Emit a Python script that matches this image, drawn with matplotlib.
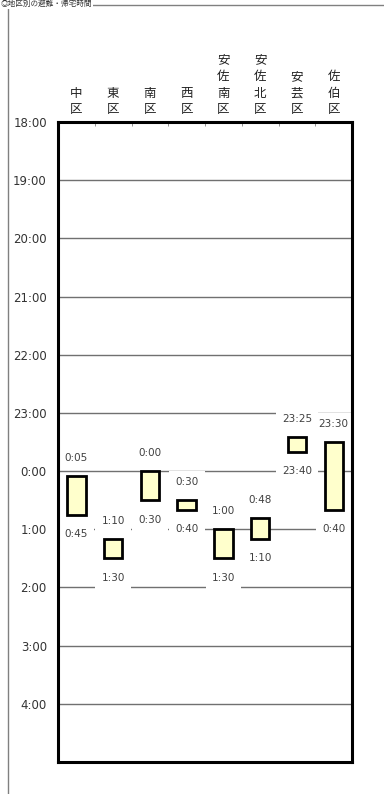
import matplotlib
matplotlib.use("Agg")
import matplotlib.pyplot as plt
from matplotlib.lines import Line2D

plt.rcParams['font.family'] = ['Noto Sans CJK JP', 'DejaVu Sans']

# districts and evacuation start / return times (hours, 24 = 0:00 next day)
districts = ['中区', '東区', '南区', '西区', '安佐南区', '安佐北区', '安芸区', '佐伯区']
start_hours = [24 + 5 / 60, 25 + 10 / 60, 24.0, 24.5, 25.0, 24.8, 23 + 25 / 60, 23.5]
end_hours = [24.75, 25.5, 24.5, 24 + 40 / 60, 25.5, 25 + 10 / 60, 23 + 40 / 60, 24 + 40 / 60]
start_labels = ['0:05', '1:10', '0:00', '0:30', '1:00', '0:48', '23:25', '23:30']
end_labels = ['0:45', '1:30', '0:30', '0:40', '1:30', '1:10', '23:40', '0:40']
hour_ticks = list(range(18, 29))
hour_labels = [f"{h % 24}:00" for h in hour_ticks]
y_top, y_bottom = 18, 29

fig = plt.figure(figsize=(3.84, 7.94), dpi=100)
ax = fig.add_axes([0.151, 0.0403, 0.766, 0.806])

x = list(range(len(districts)))
ax.bar(x, [e - s for s, e in zip(start_hours, end_hours)], bottom=start_hours,
       width=0.5, color='#FFFFCC', edgecolor='black', linewidth=2, zorder=4)

box = dict(boxstyle='square,pad=0.6', fc='white', ec='none')
for i in x:
    ax.annotate(start_labels[i], (i, start_hours[i]), xytext=(0, 13),
                textcoords='offset points', ha='center', va='center',
                fontsize=7.5, color='#404040', bbox=box, zorder=3,
                family='DejaVu Sans')
    ax.annotate(end_labels[i], (i, end_hours[i]), xytext=(0, -14),
                textcoords='offset points', ha='center', va='center',
                fontsize=7.5, color='#404040', bbox=box, zorder=3,
                family='DejaVu Sans')
    ax.annotate('\n'.join(districts[i]), (i, 1.0), xycoords=('data', 'axes fraction'),
                xytext=(0, 4), textcoords='offset points', ha='center', va='bottom',
                fontsize=9, linespacing=1.38, color='#222222')

ax.set_xlim(-0.5, len(districts) - 0.5)
ax.set_ylim(y_bottom, y_top)
ax.set_yticks(hour_ticks)
ax.set_yticklabels(hour_labels, fontsize=8.5, color='#333333', family='DejaVu Sans')
ax.tick_params(axis='y', length=0, pad=8)
ax.set_xticks([])
ax.set_xticks([i + 0.5 for i in x[:-1]], minor=True)
ax.tick_params(axis='x', which='minor', top=True, bottom=False, direction='in',
               length=3, color='#808080', labeltop=False, labelbottom=False)
ax.yaxis.grid(True, color='#707070', linewidth=1)
ax.set_axisbelow(True)
for sp in ax.spines.values():
    sp.set_linewidth(2.2)
    sp.set_zorder(5)

# outer frame of the sheet
fig.add_artist(Line2D([0.021, 0.021], [0.0, 0.9937], color='#808080', lw=1))
fig.add_artist(Line2D([0.021, 1.0], [0.9937, 0.9937], color='#808080', lw=1))
fig.text(0.002, 0.9995, '◎地区別の避難・帰宅時間', fontsize=5.5, va='top', color='#333333',
         bbox=dict(boxstyle='square,pad=0.1', fc='white', ec='none'))

fig.savefig('out.png', dpi=100)
